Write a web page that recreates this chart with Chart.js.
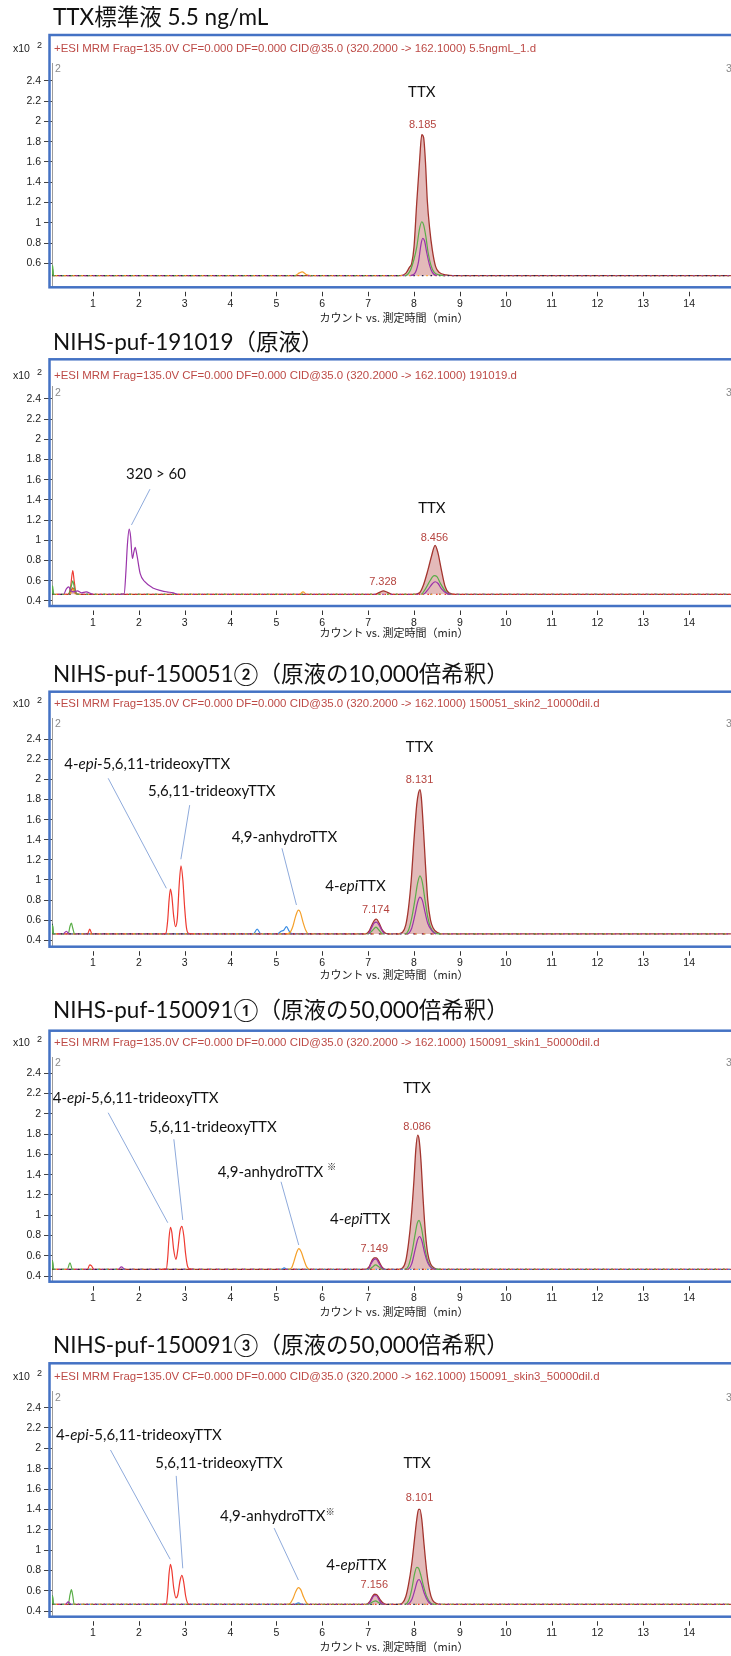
<!DOCTYPE html>
<html>
<head>
<meta charset="utf-8">
<script src="https://cdn.jsdelivr.net/npm/chart.js@4.4.1/dist/chart.umd.min.js"></script>
<style>
  html, body { margin: 0; padding: 0; background: #fff; }
  #wrap { position: relative; width: 731px; height: 1656px; overflow: hidden; }
  #wrap canvas { position: absolute; left: 0; }
</style>
</head>
<body>
<div id="wrap"></div>
<script>
// ---- data ----
const xTicks = [1, 2, 3, 4, 5, 6, 7, 8, 9, 10, 11, 12, 13, 14];
const yTicksStd = [0.6, 0.8, 1, 1.2, 1.4, 1.6, 1.8, 2, 2.2, 2.4];
const yTicksAll = [0.4, 0.6, 0.8, 1, 1.2, 1.4, 1.6, 1.8, 2, 2.2, 2.4];

const titles = [
  'TTX標準液 5.5 ng/mL',
  'NIHS-puf-191019（原液）',
  'NIHS-puf-150051②（原液の10,000倍希釈）',
  'NIHS-puf-150091①（原液の50,000倍希釈）',
  'NIHS-puf-150091③（原液の50,000倍希釈）'
];
const headerStem = '+ESI MRM Frag=135.0V CF=0.000 DF=0.000 CID@35.0 (320.2000 -> 162.1000) ';
const fileNames = ['5.5ngmL_1.d', '191019.d', '150051_skin2_10000dil.d', '150091_skin1_50000dil.d', '150091_skin3_50000dil.d'];
const baselines = [0.478, 0.466, 0.463, 0.466, 0.466];

// panel 1 : TTX standard
const p1Main = [[0.107,0.478],[7.70,0.478],[7.82,0.50],[7.90,0.56],[7.95,0.60],[8.00,0.76],[8.06,1.20],[8.12,1.60],[8.17,1.87],[8.21,1.84],[8.25,1.60],[8.29,1.22],[8.34,0.95],[8.40,0.73],[8.47,0.57],[8.55,0.51],[8.70,0.485],[8.85,0.478],[14.91,0.478]];
const p1Green = [[0.107,0.478],[0.12,0.58],[0.14,0.478],[7.80,0.478],[7.92,0.53],[8.00,0.64],[8.06,0.76],[8.12,0.94],[8.17,1.01],[8.21,0.98],[8.26,0.86],[8.31,0.70],[8.37,0.58],[8.44,0.51],[8.55,0.485],[8.65,0.478],[14.91,0.478]];
const p1Purple = [[0.107,0.478],[7.92,0.478],[8.03,0.51],[8.10,0.62],[8.15,0.78],[8.19,0.845],[8.23,0.82],[8.28,0.70],[8.34,0.58],[8.40,0.51],[8.50,0.478],[14.91,0.478]];
const p1Orange = [[0.107,0.478],[5.40,0.478],[5.50,0.505],[5.56,0.515],[5.65,0.49],[5.75,0.478],[14.91,0.478]];
const p1Dark = [[0.107,0.478],[0.115,0.56],[0.13,0.478],[14.91,0.478]];

// panel 2 : 191019
const p2Main = [[0.107,0.466],[0.45,0.466],[0.52,0.50],[0.56,0.53],[0.60,0.49],[0.66,0.466],[7.15,0.466],[7.25,0.485],[7.33,0.50],[7.42,0.485],[7.52,0.466],[8.00,0.466],[8.12,0.48],[8.20,0.55],[8.30,0.70],[8.38,0.84],[8.46,0.95],[8.52,0.88],[8.60,0.70],[8.68,0.54],[8.76,0.48],[8.90,0.466],[14.91,0.466]];
const p2Red = [[0.107,0.466],[0.46,0.466],[0.51,0.53],[0.56,0.70],[0.59,0.60],[0.63,0.48],[0.68,0.466],[14.91,0.466]];
const p2Green = [[0.107,0.466],[0.12,0.55],[0.14,0.466],[0.47,0.466],[0.53,0.55],[0.56,0.60],[0.60,0.52],[0.66,0.466],[8.15,0.466],[8.25,0.52],[8.35,0.60],[8.44,0.65],[8.50,0.64],[8.58,0.57],[8.68,0.50],[8.78,0.466],[14.91,0.466]];
const p2Purple = [[0.107,0.466],[0.36,0.466],[0.42,0.52],[0.47,0.54],[0.52,0.50],[0.58,0.49],[0.66,0.50],[0.75,0.48],[0.85,0.49],[1.00,0.466],[1.60,0.466],[1.68,0.47],[1.72,0.70],[1.75,0.95],[1.79,1.11],[1.82,1.04],[1.86,0.82],[1.89,0.88],[1.92,0.93],[1.96,0.85],[2.03,0.67],[2.13,0.59],[2.32,0.525],[2.50,0.50],[2.61,0.49],[2.75,0.48],[2.85,0.466],[8.20,0.466],[8.30,0.51],[8.40,0.57],[8.46,0.59],[8.52,0.575],[8.60,0.52],[8.70,0.48],[8.80,0.466],[14.91,0.466]];
const p2Orange = [[0.107,0.466],[0.50,0.466],[0.56,0.52],[0.62,0.466],[5.50,0.466],[5.58,0.49],[5.66,0.466],[14.91,0.466]];
const p2Dark = [[0.107,0.466],[0.115,0.53],[0.13,0.466],[14.91,0.466]];

// panel 3 : 150051 skin2
const p3Main = [[0.107,0.463],[6.95,0.463],[7.02,0.49],[7.08,0.55],[7.14,0.60],[7.18,0.61],[7.24,0.57],[7.30,0.51],[7.38,0.47],[7.45,0.463],[7.65,0.463],[7.75,0.48],[7.82,0.55],[7.88,0.72],[7.94,1.00],[8.00,1.40],[8.06,1.75],[8.10,1.87],[8.13,1.90],[8.16,1.82],[8.20,1.55],[8.25,1.15],[8.30,0.80],[8.36,0.60],[8.42,0.52],[8.50,0.48],[8.65,0.463],[14.91,0.463]];
const p3Red = [[0.107,0.463],[0.88,0.463],[0.93,0.51],[0.98,0.463],[2.50,0.463],[2.59,0.47],[2.63,0.60],[2.66,0.80],[2.69,0.91],[2.72,0.84],[2.76,0.64],[2.80,0.535],[2.84,0.62],[2.88,0.95],[2.92,1.14],[2.96,1.00],[3.00,0.72],[3.04,0.52],[3.08,0.47],[3.20,0.463],[14.91,0.463]];
const p3Green = [[0.107,0.463],[0.12,0.55],[0.14,0.463],[0.46,0.463],[0.50,0.54],[0.53,0.57],[0.56,0.52],[0.60,0.463],[7.00,0.463],[7.10,0.50],[7.17,0.53],[7.24,0.50],[7.32,0.463],[7.80,0.463],[7.88,0.50],[7.95,0.62],[8.02,0.80],[8.08,0.97],[8.13,1.04],[8.18,0.98],[8.24,0.80],[8.30,0.63],[8.36,0.53],[8.44,0.48],[8.55,0.463],[14.91,0.463]];
const p3Purple = [[0.107,0.463],[0.35,0.463],[0.42,0.49],[0.48,0.463],[7.00,0.463],[7.07,0.52],[7.13,0.57],[7.18,0.58],[7.24,0.55],[7.30,0.50],[7.36,0.463],[7.85,0.463],[7.95,0.52],[8.02,0.65],[8.08,0.78],[8.13,0.83],[8.18,0.80],[8.24,0.68],[8.30,0.57],[8.38,0.50],[8.48,0.463],[14.91,0.463]];
const p3Orange = [[0.107,0.463],[5.20,0.463],[5.30,0.48],[5.36,0.54],[5.42,0.64],[5.48,0.70],[5.52,0.68],[5.58,0.58],[5.64,0.50],[5.70,0.463],[14.91,0.463]];
const p3Blue = [[0.107,0.463],[4.50,0.463],[4.58,0.51],[4.66,0.463],[5.02,0.463],[5.10,0.49],[5.16,0.50],[5.22,0.535],[5.28,0.49],[5.35,0.463],[14.91,0.463]];
const p3Dark = [[0.107,0.463],[0.115,0.56],[0.13,0.463],[14.91,0.463]];

// panel 4 : 150091 skin1
const p4Main = [[0.107,0.466],[6.95,0.466],[7.02,0.49],[7.08,0.55],[7.13,0.58],[7.18,0.58],[7.24,0.54],[7.30,0.49],[7.38,0.466],[7.65,0.466],[7.75,0.48],[7.82,0.55],[7.88,0.72],[7.94,0.98],[8.00,1.35],[8.04,1.65],[8.08,1.79],[8.11,1.75],[8.15,1.55],[8.20,1.15],[8.25,0.82],[8.30,0.62],[8.36,0.52],[8.44,0.48],[8.55,0.466],[14.91,0.466]];
const p4Red = [[0.107,0.466],[0.88,0.466],[0.93,0.51],[0.97,0.50],[1.02,0.466],[2.50,0.466],[2.60,0.47],[2.63,0.58],[2.66,0.78],[2.69,0.88],[2.72,0.83],[2.76,0.66],[2.81,0.565],[2.85,0.66],[2.90,0.85],[2.94,0.89],[2.98,0.80],[3.02,0.62],[3.06,0.50],[3.10,0.47],[3.20,0.466],[14.91,0.466]];
const p4Green = [[0.107,0.466],[0.12,0.55],[0.14,0.466],[0.44,0.466],[0.50,0.53],[0.55,0.466],[7.00,0.466],[7.10,0.49],[7.16,0.51],[7.24,0.49],[7.32,0.466],[7.80,0.466],[7.88,0.50],[7.95,0.62],[8.02,0.80],[8.07,0.92],[8.11,0.95],[8.16,0.88],[8.22,0.72],[8.28,0.58],[8.35,0.50],[8.44,0.47],[8.55,0.466],[14.91,0.466]];
const p4Purple = [[0.107,0.466],[1.55,0.466],[1.62,0.49],[1.70,0.466],[7.00,0.466],[7.06,0.52],[7.12,0.56],[7.17,0.57],[7.23,0.53],[7.30,0.48],[7.36,0.466],[7.85,0.466],[7.95,0.52],[8.02,0.65],[8.08,0.76],[8.12,0.79],[8.17,0.75],[8.23,0.63],[8.30,0.53],[8.38,0.48],[8.48,0.466],[14.91,0.466]];
const p4Orange = [[0.107,0.466],[5.25,0.466],[5.33,0.48],[5.38,0.54],[5.44,0.63],[5.49,0.67],[5.54,0.64],[5.60,0.56],[5.66,0.49],[5.72,0.466],[14.91,0.466]];
const p4Blue = [[0.107,0.466],[5.10,0.466],[5.17,0.48],[5.24,0.466],[14.91,0.466]];
const p4Dark = [[0.107,0.466],[0.115,0.55],[0.13,0.466],[14.91,0.466]];

// panel 5 : 150091 skin3
const p5Main = [[0.107,0.466],[6.95,0.466],[7.03,0.49],[7.09,0.54],[7.14,0.565],[7.19,0.56],[7.25,0.52],[7.32,0.48],[7.40,0.466],[7.65,0.466],[7.75,0.48],[7.82,0.54],[7.88,0.66],[7.95,0.86],[8.01,1.10],[8.06,1.30],[8.10,1.40],[8.13,1.40],[8.17,1.30],[8.22,1.05],[8.28,0.78],[8.34,0.60],[8.40,0.51],[8.48,0.475],[8.60,0.466],[14.91,0.466]];
const p5Red = [[0.107,0.466],[2.50,0.466],[2.60,0.47],[2.63,0.58],[2.66,0.77],[2.69,0.86],[2.72,0.80],[2.76,0.63],[2.81,0.53],[2.85,0.56],[2.90,0.70],[2.94,0.75],[2.98,0.68],[3.02,0.55],[3.06,0.48],[3.10,0.466],[14.91,0.466]];
const p5Green = [[0.107,0.466],[0.12,0.55],[0.14,0.466],[0.46,0.466],[0.50,0.56],[0.53,0.61],[0.56,0.55],[0.59,0.466],[7.00,0.466],[7.10,0.49],[7.16,0.50],[7.24,0.48],[7.32,0.466],[7.80,0.466],[7.88,0.50],[7.95,0.61],[8.01,0.76],[8.06,0.83],[8.10,0.82],[8.15,0.75],[8.21,0.64],[8.28,0.54],[8.36,0.48],[8.45,0.466],[14.91,0.466]];
const p5Purple = [[0.107,0.466],[0.40,0.466],[0.46,0.49],[0.52,0.466],[7.00,0.466],[7.07,0.51],[7.13,0.55],[7.18,0.55],[7.24,0.51],[7.30,0.47],[7.36,0.466],[7.85,0.466],[7.95,0.51],[8.02,0.61],[8.07,0.69],[8.11,0.71],[8.16,0.67],[8.22,0.58],[8.30,0.50],[8.40,0.466],[14.91,0.466]];
const p5Orange = [[0.107,0.466],[5.22,0.466],[5.30,0.475],[5.36,0.52],[5.42,0.59],[5.48,0.63],[5.53,0.61],[5.59,0.54],[5.65,0.485],[5.70,0.466],[14.91,0.466]];
const p5Blue = [[0.107,0.466],[5.40,0.466],[5.48,0.48],[5.55,0.466],[14.91,0.466]];
const p5Dark = [[0.107,0.466],[0.115,0.55],[0.13,0.466],[14.91,0.466]];

// retention time labels [text, time, value]
const p1Rt = [['8.185', 8.19, 1.965]];
const p2Rt = [['8.456', 8.445, 1.027], ['7.328', 7.323, 0.591]];
const p3Rt = [['8.131', 8.12, 1.995], ['7.174', 7.166, 0.702]];
const p4Rt = [['8.086', 8.068, 1.873], ['7.149', 7.135, 0.663]];
const p5Rt = [['8.101', 8.12, 1.515], ['7.156', 7.135, 0.656]];

// compound labels: parts, time, value, align
const epiTri = [['4-', ''], ['epi', 'i'], ['-5,6,11-trideoxyTTX', '']];
const tri = [['5,6,11-trideoxyTTX', '']];
const epiTtx = [['4-', ''], ['epi', 'i'], ['TTX', '']];
const ttxName = [['TTX', '']];
const p1Notes = [[ttxName, 8.17, 2.294, 'center']];
const p2Notes = [[ttxName, 8.39, 1.318, 'center'], [[['320 > 60', '']], 2.374, 1.654, 'center']];
const p3Notes = [[ttxName, 8.12, 2.326, 'center'], [epiTri, 0.375, 2.151, 'left'], [tri, 2.20, 1.879, 'left'], [[['4,9-anhydroTTX', '']], 4.024, 1.431, 'left'], [epiTtx, 6.067, 0.940, 'left']];
const p4Notes = [[ttxName, 8.064, 2.252, 'center'], [epiTri, 0.122, 2.159, 'left'], [tri, 2.226, 1.873, 'left'], [[['4,9-anhydroTTX ', ''], ['※', 's']], 3.719, 1.429, 'left'], [epiTtx, 6.167, 0.959, 'left']];
const p5Notes = [[ttxName, 8.068, 1.853, 'center'], [epiTri, 0.192, 2.131, 'left'], [tri, 2.357, 1.853, 'left'], [[['4,9-anhydroTTX', ''], ['※', 's']], 3.770, 1.328, 'left'], [epiTtx, 6.087, 0.853, 'left']];

// leader lines [t0, v0, t1, v1]
const p1Leaders = [];
const p2Leaders = [[2.243, 1.506, 1.84, 1.152]];
const p3Leaders = [[1.332, 2.012, 2.601, 0.917], [3.109, 1.745, 2.917, 1.206], [5.121, 1.315, 5.437, 0.751]];
const p4Leaders = [[1.332, 2.011, 2.631, 0.926], [2.764, 1.749, 2.958, 0.953], [5.101, 1.330, 5.487, 0.706]];
const p5Leaders = [[1.382, 1.984, 2.684, 0.909], [2.815, 1.729, 2.958, 0.820], [4.949, 1.216, 5.479, 0.705]];

// ---- layout (canvas-relative pixels) ----
const layouts = [
  { top: 0,    h: 328, titleBase: 25,   boxTop: 35,   headerY: 49,   plotTop: 63,   plotBottom: 287.3, xTitleY: 318,   ymin: 0.363, ymax: 2.577 },
  { top: 328,  h: 327, titleBase: 21.5, boxTop: 31.3, headerY: 48,   plotTop: 58.7, plotBottom: 278,   xTitleY: 305,   ymin: 0.35,  ymax: 2.52 },
  { top: 655,  h: 330, titleBase: 27.3, boxTop: 36.7, headerY: 49,   plotTop: 63.3, plotBottom: 291.7, xTitleY: 320,   ymin: 0.336, ymax: 2.609 },
  { top: 985,  h: 335, titleBase: 32.7, boxTop: 45.7, headerY: 57.7, plotTop: 72.3, plotBottom: 296.7, xTitleY: 326.7, ymin: 0.344, ymax: 2.558 },
  { top: 1320, h: 336, titleBase: 32.7, boxTop: 43.3, headerY: 56.7, plotTop: 71.7, plotBottom: 296.7, xTitleY: 326.7, ymin: 0.344, ymax: 2.557 }
];
const X_MIN = 0.107, X_MAX = 14.912;

const panels = [
  { yTicks: yTicksStd, main: p1Main, red: null,  green: p1Green, purple: p1Purple, orange: p1Orange, blue: null,   dark: p1Dark, rt: p1Rt, notes: p1Notes, leaders: p1Leaders },
  { yTicks: yTicksAll, main: p2Main, red: p2Red, green: p2Green, purple: p2Purple, orange: p2Orange, blue: null,   dark: p2Dark, rt: p2Rt, notes: p2Notes, leaders: p2Leaders },
  { yTicks: yTicksAll, main: p3Main, red: p3Red, green: p3Green, purple: p3Purple, orange: p3Orange, blue: p3Blue, dark: p3Dark, rt: p3Rt, notes: p3Notes, leaders: p3Leaders },
  { yTicks: yTicksAll, main: p4Main, red: p4Red, green: p4Green, purple: p4Purple, orange: p4Orange, blue: p4Blue, dark: p4Dark, rt: p4Rt, notes: p4Notes, leaders: p4Leaders },
  { yTicks: yTicksAll, main: p5Main, red: p5Red, green: p5Green, purple: p5Purple, orange: p5Orange, blue: p5Blue, dark: p5Dark, rt: p5Rt, notes: p5Notes, leaders: p5Leaders }
];

const traceStyles = {
  purple: { color: '#9a34aa', dashOff: 2 },
  green:  { color: '#5aae48', dashOff: 0 },
  red:    { color: '#ee3a31', dashOff: 3.5 },
  orange: { color: '#f5a02a', dashOff: 5 },
  blue:   { color: '#3b8de4', dashOff: 6.5 },
  dark:   { color: '#23234d', dashOff: 1 }
};

const TICK_FONT = '10.5px "Liberation Sans", Arial, sans-serif';
const LABEL_FAMILY = 'Lato, "Noto Sans CJK JP", sans-serif';
let headerScale = null;

function drawParts(ctx, parts, x, y, size, align) {
  const fontFor = st => (st === 'i' ? 'italic ' : '') + (st === 's' ? size * 0.62 : size) + 'px ' + LABEL_FAMILY;
  let total = 0;
  for (const [s, st] of parts) { ctx.font = fontFor(st); total += ctx.measureText(s).width; }
  let cx = align === 'center' ? x - total / 2 : x;
  ctx.textAlign = 'left';
  for (const [s, st] of parts) {
    ctx.font = fontFor(st);
    ctx.fillText(s, cx, st === 's' ? y - size * 0.3 : y);
    cx += ctx.measureText(s).width;
  }
}

const decor = {
  id: 'decor',
  afterDraw(chart, args, o) {
    const { ctx, chartArea: a, scales: { x, y } } = chart;
    const L = o.layout, P = o.panel;
    ctx.save();

    // panel title
    ctx.fillStyle = '#111';
    ctx.textAlign = 'left';
    ctx.textBaseline = 'alphabetic';
    ctx.font = '22.5px ' + LABEL_FAMILY;
    ctx.fillText(o.title, 53, L.titleBase);

    // blue frame
    ctx.strokeStyle = '#4472c4';
    ctx.lineWidth = 2.5;
    ctx.strokeRect(49.5, L.boxTop, 800, a.bottom - L.boxTop);

    // x10^2
    ctx.fillStyle = '#222';
    ctx.textBaseline = 'middle';
    ctx.font = TICK_FONT;
    ctx.fillText('x10', 13, L.headerY);
    ctx.font = '9px "Liberation Sans", Arial, sans-serif';
    ctx.fillText('2', 37, L.headerY - 3);

    // header line, squeezed like the instrument font
    ctx.font = '11.5px "Liberation Sans", Arial, sans-serif';
    if (headerScale === null) headerScale = 482 / ctx.measureText(headerStem + fileNames[0]).width;
    ctx.fillStyle = '#bd4a46';
    ctx.save();
    ctx.translate(54, L.headerY);
    ctx.scale(headerScale, 1);
    ctx.fillText(o.header, 0, 0);
    ctx.restore();

    // small grey trace numbers
    ctx.fillStyle = '#8a8a8a';
    ctx.font = TICK_FONT;
    ctx.fillText('2', 55, a.top + 6);
    ctx.fillText('3', 726, a.top + 6);

    // x tick marks
    ctx.strokeStyle = '#333';
    ctx.lineWidth = 1;
    ctx.beginPath();
    for (const v of xTicks) {
      const px = Math.round(x.getPixelForValue(v)) + 0.5;
      ctx.moveTo(px, a.bottom + 4.5);
      ctx.lineTo(px, a.bottom + 9);
    }
    ctx.stroke();

    // x axis title
    ctx.fillStyle = '#222';
    ctx.textAlign = 'center';
    ctx.font = '11px "Noto Sans CJK JP", sans-serif';
    ctx.fillText('カウント vs. 測定時間（min）', 394, L.xTitleY);

    // leader lines
    ctx.strokeStyle = '#8eaadb';
    ctx.lineWidth = 1;
    for (const [t0, v0, t1, v1] of P.leaders) {
      ctx.beginPath();
      ctx.moveTo(x.getPixelForValue(t0), y.getPixelForValue(v0));
      ctx.lineTo(x.getPixelForValue(t1), y.getPixelForValue(v1));
      ctx.stroke();
    }

    // compound names
    ctx.fillStyle = '#111';
    for (const [parts, t, v, align] of P.notes) {
      drawParts(ctx, parts, x.getPixelForValue(t), y.getPixelForValue(v), 15, align);
    }

    // retention times
    ctx.fillStyle = '#b5443f';
    ctx.textAlign = 'center';
    ctx.font = '11px "Liberation Sans", Arial, sans-serif';
    for (const [txt, t, v] of P.rt) {
      ctx.fillText(txt, x.getPixelForValue(t), y.getPixelForValue(v));
    }
    ctx.restore();
  }
};

Chart.register(decor);

function buildDatasets(P, base) {
  const isBase = ctx => Math.abs(ctx.p0.parsed.y - base) < 1e-6 && Math.abs(ctx.p1.parsed.y - base) < 1e-6;
  const sets = [];
  for (const key of ['purple', 'green', 'red', 'orange', 'blue', 'dark']) {
    if (!P[key]) continue;
    const st = traceStyles[key];
    sets.push({
      data: P[key],
      borderColor: st.color,
      borderWidth: 1.2,
      fill: false,
      segment: {
        borderDash: ctx => isBase(ctx) ? [1.6, 7] : undefined,
        borderDashOffset: ctx => isBase(ctx) ? st.dashOff : undefined
      }
    });
  }
  sets.push({
    data: P.main,
    borderColor: '#a3352f',
    borderWidth: 1.3,
    backgroundColor: 'rgba(200, 118, 116, 0.5)',
    fill: { value: base }
  });
  return sets;
}

const wrap = document.getElementById('wrap');
panels.forEach((P, i) => {
  const L = layouts[i];
  const cv = document.createElement('canvas');
  cv.width = 731;
  cv.height = L.h;
  cv.style.top = L.top + 'px';
  cv.style.width = '731px';
  cv.style.height = L.h + 'px';
  wrap.appendChild(cv);

  new Chart(cv, {
    type: 'line',
    data: { datasets: buildDatasets(P, baselines[i]) },
    options: {
      responsive: false,
      animation: false,
      devicePixelRatio: 1,
      layout: { padding: { top: L.plotTop, left: 0, right: 0, bottom: 0 } },
      elements: { point: { radius: 0 }, line: { cubicInterpolationMode: 'monotone' } },
      plugins: {
        legend: { display: false },
        tooltip: { enabled: false },
        decor: { layout: L, panel: P, title: titles[i], header: headerStem + fileNames[i] }
      },
      scales: {
        x: {
          type: 'linear',
          min: X_MIN,
          max: X_MAX,
          grid: { display: false, drawTicks: false },
          border: { display: false },
          ticks: { color: '#222', font: { family: '"Liberation Sans", Arial, sans-serif', size: 10.5 }, padding: 10.5, maxRotation: 0, autoSkip: false, callback: v => String(v) },
          afterBuildTicks: s => { s.ticks = xTicks.map(v => ({ value: v })); },
          afterFit: s => { s.height = L.h - L.plotBottom; }
        },
        y: {
          min: L.ymin,
          max: L.ymax,
          grid: { drawOnChartArea: false, drawTicks: true, tickLength: 8, tickColor: '#444' },
          border: { display: true, color: '#9c9c9c', width: 1 },
          ticks: { color: '#222', font: { family: '"Liberation Sans", Arial, sans-serif', size: 10.5 }, padding: 3, autoSkip: false, callback: v => String(+v.toFixed(1)) },
          afterBuildTicks: s => { s.ticks = P.yTicks.map(v => ({ value: v })); },
          afterFit: s => { s.width = 52; }
        }
      }
    }
  });
});
</script>
</body>
</html>
